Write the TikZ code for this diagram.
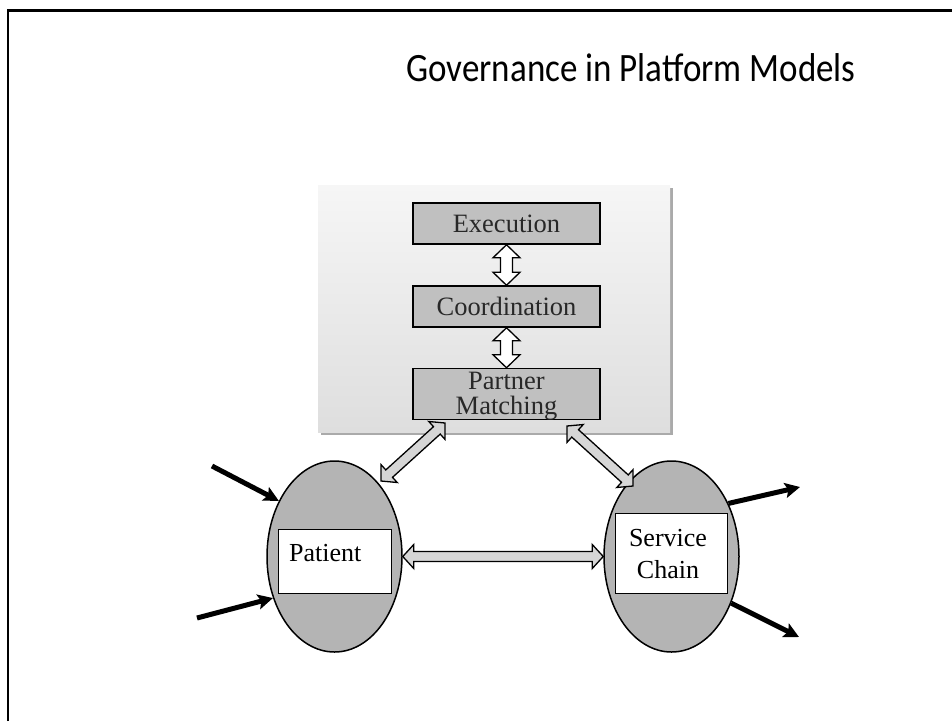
\documentclass[tikz,border=0pt]{standalone}
\usepackage{fontspec}
\usepackage{graphicx}
\setmainfont{Liberation Serif}
\newfontfamily\titlefont{Carlito}
\usetikzlibrary{shapes.geometric,arrows.meta,calc}
\definecolor{boxgray}{RGB}{192,192,192}
\definecolor{ellgray}{RGB}{180,180,180}
\definecolor{arrfill}{RGB}{214,214,214}
\definecolor{paneltop}{RGB}{246,246,246}
\definecolor{panelbot}{RGB}{222,222,222}
\definecolor{shadowgray}{RGB}{170,170,170}
\definecolor{boxtext}{RGB}{40,40,40}
% hollow double arrow: #1 tip a, #2 tip b, #3 head length, #4 shaft half width, #5 head half width, #6 fill
\newcommand\hdarrow[6]{%
  \coordinate (hpa) at ($(#1)!#3!(#2)$);
  \coordinate (hpb) at ($(#2)!#3!(#1)$);
  \path[draw=black, line width=1.3pt, fill=#6, line join=miter]
    (#1) -- ($(hpa)!#5!90:(#2)$) -- ($(hpa)!#4!90:(#2)$)
    -- ($(hpb)!#4!-90:(#1)$) -- ($(hpb)!#5!-90:(#1)$) -- (#2)
    -- ($(hpb)!#5!90:(#1)$) -- ($(hpb)!#4!90:(#1)$)
    -- ($(hpa)!#4!-90:(#2)$) -- ($(hpa)!#5!-90:(#2)$) -- cycle;
}
\tikzset{
  layerbox/.style={draw=black, line width=1.5pt, fill=boxgray, minimum width=187pt,
     text=boxtext, font=\fontsize{26.5}{24.5}\selectfont, align=center, inner sep=0pt},
  actor/.style={ellipse, draw=black, line width=1.5pt, fill=ellgray, minimum width=135pt,
     minimum height=191pt, inner sep=0pt},
  rolebox/.style={draw=black, line width=0.9pt, fill=white, inner sep=0pt},
  roletext/.style={font=\fontsize{26}{32}\selectfont, align=center, inner sep=0pt},
  flow/.style={line width=5pt, -{Stealth[length=15pt, width=15pt, inset=3pt]}}
}
\begin{document}
\begin{tikzpicture}[x=1pt, y=-1pt]
\useasboundingbox (0,0) rectangle (952,721);
\fill[white] (0,0) rectangle (952,721);
% frame
\draw[line width=2.6pt] (8,721) -- (8,10.3) -- (952,10.3);
% title
\node (title) at (631,68) {\scalebox{1}[1.15]{\titlefont\fontsize{35}{42}\selectfont Governance in Platform Models}};
% panel
\fill[shadowgray] (321,188) rectangle (673,435);
\shade[top color=paneltop, bottom color=panelbot] (318,185) rectangle (670,432);
% layer boxes
\node[layerbox, minimum height=41pt] (exe) at (506.5,223.5) {Execution};
\node[layerbox, minimum height=41pt] (coo) at (506.5,306.5) {Coordination};
\node[layerbox, minimum height=51pt] (pm) at (506.5,394) {};
\node[layerbox, draw=none, fill=none, minimum width=0pt] (pmtext) at (506.5,396) {Partner\\Matching};
\hdarrow{exe.south}{coo.north}{13pt}{6pt}{13.5pt}{white}
\hdarrow{coo.south}{pm.north}{13pt}{6pt}{13.5pt}{white}
% actors
\node[actor] (pat) at (334.5,556.5) {};
\node[actor] (svc) at (671.5,556.5) {};
\node[rolebox, minimum width=113pt, minimum height=64pt] (patbox) at (334.5,561) {};
\node[roletext, anchor=west] (pattext) at (289,553) {Patient};
\node[rolebox, minimum width=112pt, minimum height=80pt] (svcbox) at (671,553) {};
\node[roletext] (svctext) at (668,554) {Service\\Chain};
% connectors
\coordinate (pml) at (445,423);
\coordinate (patt) at (381,481);
\coordinate (pmr) at (567,426);
\coordinate (svct) at (633,486);
\hdarrow{pml}{patt}{11pt}{5pt}{12pt}{arrfill}
\hdarrow{pmr}{svct}{11pt}{5pt}{12pt}{arrfill}
\hdarrow{pat.east}{svc.west}{11pt}{5pt}{12pt}{arrfill}
% inputs / outputs
\coordinate (in1) at (212,466);
\coordinate (in2) at (197,618);
\coordinate (out1) at (800,487);
\coordinate (out2) at (799,637);
\draw[flow] (in1) -- (pat.135);
\draw[flow] (in2) -- (pat.214);
\draw[flow] (svc.43) -- (out1);
\draw[flow] (svc.-38) -- (out2);
\end{tikzpicture}
\end{document}
